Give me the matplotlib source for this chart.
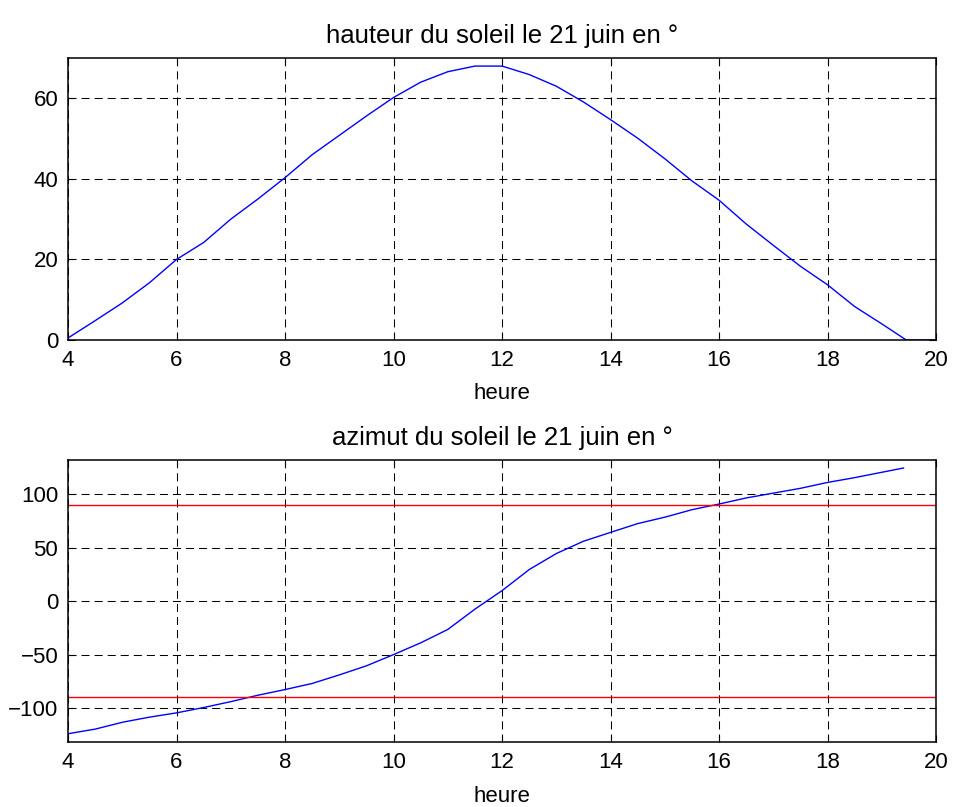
import matplotlib
matplotlib.use("Agg")
import matplotlib.pyplot as plt

plt.rcParams['font.family'] = ['Liberation Sans', 'DejaVu Sans']
plt.rcParams['lines.scale_dashes'] = False

# hauteur du soleil (degres) en fonction de l'heure
heures_h = [4.0, 4.5, 5.0, 5.5, 6.0, 6.5, 7.0, 7.5, 8.0, 8.5, 9.0, 9.5, 10.0, 10.5,
            11.0, 11.5, 12.0, 12.5, 13.0, 13.5, 14.0, 14.5, 15.0, 15.5, 16.0, 16.5,
            17.0, 17.5, 18.0, 18.5, 19.0, 19.45, 20.0]
hauteur = [0.5, 4.8, 9.2, 14.2, 20.0, 24.2, 30.0, 35.0, 40.3, 46.0, 50.8, 55.6, 60.2, 64.0,
           66.6, 68.0, 68.0, 65.9, 63.0, 59.1, 54.7, 50.1, 45.0, 39.5, 34.7, 28.8,
           23.5, 18.3, 13.7, 8.3, 4.0, 0.0, 0.0]

# azimut du soleil (degres)
heures_a = [4.0, 4.5, 5.0, 5.5, 6.0, 6.5, 7.0, 7.5, 8.0, 8.5, 9.0, 9.5, 10.0, 10.5,
            11.0, 11.5, 12.0, 12.5, 13.0, 13.5, 14.0, 14.5, 15.0, 15.5, 16.0, 16.5,
            17.0, 17.5, 18.0, 18.5, 19.0, 19.4]
azimut = [-124.0, -119.7, -113.3, -108.5, -104.5, -99.5, -94.0, -88.0, -82.7, -77.0,
          -69.0, -60.5, -50.0, -39.0, -26.5, -7.5, 9.8, 29.5, 44.5, 56.0, 64.3, 72.5,
          78.5, 85.5, 90.8, 96.5, 101.0, 105.5, 111.0, 115.5, 120.5, 124.5]
limites = [90, -90]

fig = plt.figure(figsize=(9.54, 8.07), dpi=100)
ax1 = fig.add_axes([0.0713, 0.5787, 0.9099, 0.3494])
ax2 = fig.add_axes([0.0713, 0.0802, 0.9099, 0.3498])

ax1.plot(heures_h, hauteur, color='#0000ff', lw=1.0)
ax1.set_xlim(4, 20)
ax1.set_ylim(0, 70)
ax1.set_yticks([0, 20, 40, 60])
ax1.set_title('hauteur du soleil le 21 juin en °', fontsize=18.5, pad=11)
ax1.set_xlabel('heure', fontsize=16, labelpad=9)

ax2.plot(heures_a, azimut, color='#0000ff', lw=1.0)
for v in limites:
    ax2.axhline(v, color='#ff0000', lw=1.0)
ax2.set_xlim(4, 20)
ax2.set_ylim(-132, 132)
ax2.set_yticks([-100, -50, 0, 50, 100])
ax2.set_title('azimut du soleil le 21 juin en °', fontsize=18.5, pad=11)
ax2.set_xlabel('heure', fontsize=16, labelpad=9)

for ax in (ax1, ax2):
    ax.set_xticks(range(4, 21, 2))
    ax.grid(True, color='black', lw=0.75, linestyle=(0, (5.8, 3.6)))
    ax.tick_params(direction='in', length=5, width=0.8, labelsize=16,
                   top=True, right=True, pad=7)
    for s in ax.spines.values():
        s.set_linewidth(1.1)

fig.savefig('out.png', dpi=100)
